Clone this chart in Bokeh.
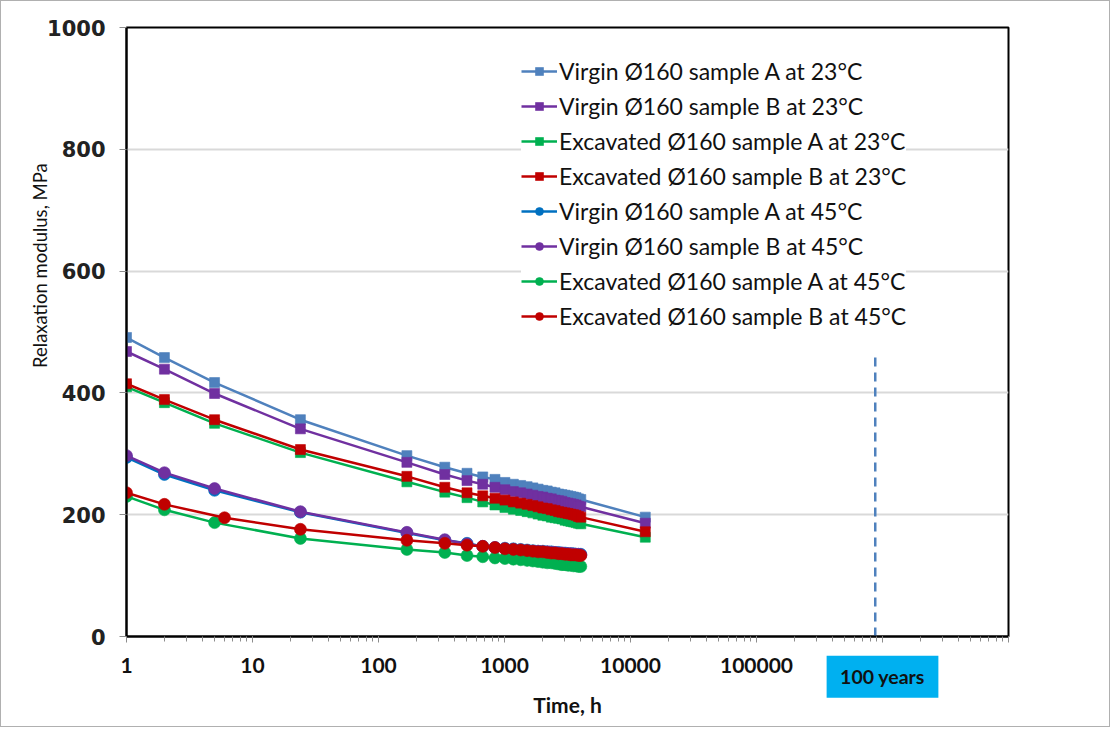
from math import pi
from bokeh.plotting import figure
from bokeh.models import (Legend, LegendItem, Label, Range1d, LogTicker,
                          SingleIntervalTicker, NumeralTickFormatter)
from bokeh.embed import file_html
from bokeh.resources import INLINE

# ---------------- data ----------------
t23 = [1, 2, 5, 24, 168, 336, 504, 672, 840, 1008, 1176, 1344, 1512, 1680, 1848,
       2016, 2184, 2352, 2520, 2688, 2856, 3024, 3192, 3360, 3528, 3696, 3864,
       4032, 13104]
t45 = [1, 2, 5, 24, 168, 336, 504, 672, 840, 1008, 1176, 1344, 1512, 1680, 1848,
       2016, 2184, 2352, 2520, 2688, 2856, 3024, 3192, 3360, 3528, 3696, 3864,
       4032]
t45_exc_b = [1, 2, 6, 24, 168, 336, 504, 672, 840, 1008, 1176, 1344, 1512, 1680,
             1848, 2016, 2184, 2352, 2520, 2688, 2856, 3024, 3192, 3360, 3528,
             3696, 3864, 4032]

virgin_a_23 = [491, 458, 417, 356, 297, 278, 268, 262, 258, 253, 250, 248, 246,
               244, 242, 240, 239, 237, 236, 234, 233, 232, 231, 230, 229, 228,
               226, 225, 196]
virgin_b_23 = [468, 439, 399, 341, 286, 266, 256, 250, 245, 241, 238, 236, 234,
               232, 230, 229, 227, 226, 224, 223, 222, 220, 219, 218, 217, 216,
               214, 213, 186]
exc_a_23 = [410, 384, 350, 302, 254, 237, 228, 221, 216, 212, 209, 207, 205, 203,
            201, 199, 198, 196, 195, 194, 193, 191, 190, 189, 188, 187, 186, 185,
            163]
exc_b_23 = [415, 389, 356, 307, 263, 245, 236, 231, 227, 224, 221, 219, 217, 215,
            213, 211, 210, 208, 207, 205, 204, 203, 202, 201, 200, 199, 197, 196,
            172]
virgin_a_45 = [294, 266, 240, 204, 170, 158, 153, 148, 146, 145, 144, 143, 142,
               141, 140, 140, 139, 139, 138, 138, 137, 137, 136, 136, 136, 135,
               135, 135]
virgin_b_45 = [297, 269, 243, 205, 171, 159, 152, 148, 146, 144, 143, 142, 141,
               140, 140, 139, 139, 138, 138, 137, 137, 136, 136, 136, 135, 135,
               135, 134]
exc_a_45 = [230, 208, 187, 161, 143, 138, 133, 131, 129, 128, 127, 126, 125, 124,
            123, 122, 121, 121, 120, 119, 118, 118, 117, 117, 116, 116, 115, 115]
exc_b_45 = [236, 217, 195, 176, 158, 153, 150, 148, 146, 144, 143, 142, 141, 140,
            139, 139, 138, 137, 137, 136, 136, 135, 135, 134, 134, 134, 133, 133]

series = [
    ("Virgin Ø160 sample A at 23°C", t23, virgin_a_23, "#4F81BD", "square"),
    ("Virgin Ø160 sample B at 23°C", t23, virgin_b_23, "#7030A0", "square"),
    ("Excavated Ø160 sample A at 23°C", t23, exc_a_23, "#00B050", "square"),
    ("Excavated Ø160 sample B at 23°C", t23, exc_b_23, "#C00000", "square"),
    ("Virgin Ø160 sample A at 45°C", t45, virgin_a_45, "#0070C0", "circle"),
    ("Virgin Ø160 sample B at 45°C", t45, virgin_b_45, "#7030A0", "circle"),
    ("Excavated Ø160 sample A at 45°C", t45, exc_a_45, "#00B050", "circle"),
    ("Excavated Ø160 sample B at 45°C", t45_exc_b, exc_b_45, "#C00000", "circle"),
]

hundred_years_h = 876000
marker_line_top = 458

# ---------------- figure ----------------
p = figure(width=1110, height=727, x_axis_type="log",
           x_range=Range1d(1, 1e7), y_range=Range1d(0, 1000),
           output_backend="svg", toolbar_location=None,
           min_border_left=125, min_border_right=103,
           min_border_top=26, min_border_bottom=92)
p.styles = {"border": "1px solid #B0B0B0"}
p.background_fill_color = "white"
p.border_fill_color = "white"
p.outline_line_color = "black"
p.outline_line_width = 2

p.xgrid.grid_line_color = None
p.ygrid.grid_line_color = "#D9D9D9"
p.ygrid.grid_line_width = 2

p.yaxis.ticker = SingleIntervalTicker(interval=200)
p.xaxis.ticker = LogTicker(desired_num_ticks=8, num_minor_ticks=10)
p.xaxis.formatter = NumeralTickFormatter(format="0")

for ax in (p.xaxis[0], p.yaxis[0]):
    ax.axis_line_color = "black"
    ax.axis_line_width = 2
    ax.major_tick_line_color = "#8C8C8C"
    ax.minor_tick_line_color = "#8C8C8C"
    ax.major_tick_in = 0
    ax.minor_tick_in = 0

p.yaxis.major_tick_out = 7
p.yaxis.minor_tick_out = 0
p.yaxis.major_label_text_font = "DejaVu Sans"
p.yaxis.major_label_text_font_style = "bold"
p.yaxis.major_label_text_font_size = "21px"
p.yaxis.major_label_text_color = "#222222"
p.yaxis.major_label_standoff = 14

p.xaxis.major_tick_out = 6
p.xaxis.minor_tick_out = 5
p.xaxis.major_label_text_font = "Lato"
p.xaxis.major_label_text_font_style = "bold"
p.xaxis.major_label_text_font_size = "21px"
p.xaxis.major_label_text_color = "#111111"
p.xaxis.major_label_standoff = 15
p.xaxis.major_label_overrides = {1000000: "", 10000000: ""}
p.xaxis.axis_label = "Time, h"
p.xaxis.axis_label_text_font = "Lato"
p.xaxis.axis_label_text_font_style = "bold"
p.xaxis.axis_label_text_font_size = "21px"
p.xaxis.axis_label_text_color = "#111111"
p.xaxis.axis_label_standoff = 16

# 100-year marker
p.segment(x0=[hundred_years_h], y0=[0], x1=[hundred_years_h], y1=[marker_line_top],
          line_color="#4F81BD", line_width=2.5, line_dash="9 6")

items = []
for label, t, v, color, marker in series:
    lr = p.line(t, v, line_color=color, line_width=2.5)
    size = 10 if marker == "square" else 12
    sr = p.scatter(t, v, marker=marker, size=size, fill_color=color,
                   line_color=color, line_alpha=0.6)
    items.append(LegendItem(label=label, renderers=[lr, sr]))

legend = Legend(items=items, location=(395, 305))
legend.label_text_font = "Lato"
legend.label_text_font_size = "23px"
legend.label_text_color = "#111111"
legend.label_height = 30
legend.glyph_height = 20
legend.glyph_width = 36
legend.label_standoff = 2
legend.spacing = 5
legend.padding = 20
legend.margin = 0
legend.border_line_color = None
legend.background_fill_color = "white"
legend.background_fill_alpha = 1.0
p.add_layout(legend, "center")

p.add_layout(Label(x=0.2077, y=609, x_units="data", y_units="data",
                   text="Relaxation modulus, MPa", angle=pi / 2,
                   text_align="center", text_baseline="middle",
                   text_font="Lato", text_font_size="18.5px",
                   text_color="#111111"), "left")

p.add_layout(Label(x=1000000, y=-66, x_units="data", y_units="data",
                   text="100 years", text_align="center", text_baseline="middle",
                   text_font="Lato", text_font_style="bold",
                   text_font_size="19.5px", text_color="#111111",
                   background_fill_color="#00B0F0",
                   border_line_color="#00B0F0", border_line_width=19,
                   border_line_join="miter",
                   padding=(4, 0)), "right")

open("out.html", "w").write(file_html(p, INLINE))
